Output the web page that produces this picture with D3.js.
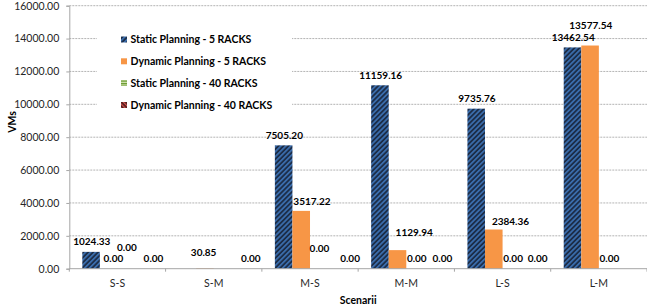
<!DOCTYPE html>
<html><head><meta charset="utf-8">
<script src="https://cdn.jsdelivr.net/npm/d3@7"></script>
<style>body{margin:0;background:#fff}svg{display:block}text{font-family:Lato,"Open Sans",sans-serif}</style>
</head><body><svg id="c" width="647" height="308"></svg>
<script>
// ---- data ----
const categories = ["S-S", "S-M", "M-S", "M-M", "L-S", "L-M"];
const seriesNames = ["Static Planning - 5 RACKS", "Dynamic Planning - 5 RACKS", "Static Planning - 40 RACKS", "Dynamic Planning - 40 RACKS"];
const static5 = [1024.33, null, 7505.20, 11159.16, 9735.76, 13462.54];
const dynamic5 = [0, 30.85, 3517.22, 1129.94, 2384.36, 13577.54];
const static40 = [0, null, 0, 0, 0, 0];
const dynamic40 = [0, 0, 0, 0, 0, null];
const yTicks = [0, 2000, 4000, 6000, 8000, 10000, 12000, 14000, 16000];
const xTitle = "Scenarii";
const yTitle = "VMs";

// ---- layout / style (not data) ----
const seriesData = [static5, dynamic5, static40, dynamic40];
const fills = ["url(#pStatic5)", "#f79646", "url(#pStatic40)", "url(#pDyn40)"];
// manual label nudges [dx, dy] keyed "category-series"
const labelNudge = {
  "0-1": [4, 0], "0-2": [0, -11], "0-3": [9, 0],
  "1-1": [-2, -6], "1-3": [10, 0],
  "2-1": [10, 1], "2-2": [0, -10], "2-3": [13, 0],
  "3-1": [16, -8], "3-2": [1, 0], "3-3": [9, 0],
  "4-1": [16, 2], "4-2": [1, 0], "4-3": [8, 0],
  "5-1": [0, -10], "5-2": [1, 0]
};

const L = 69.3, R = 647, T = 5.7, B = 268.7;
const svg = d3.select("#c");
const defs = svg.append("defs");

function stripes(id, bg, fg, angle, size, w) {
  const p = defs.append("pattern").attr("id", id).attr("patternUnits", "userSpaceOnUse")
    .attr("width", size).attr("height", size).attr("patternTransform", `rotate(${angle})`);
  p.append("rect").attr("width", size).attr("height", size).attr("fill", bg);
  p.append("rect").attr("width", w).attr("height", size).attr("fill", fg);
}
stripes("pStatic5", "#1b2b45", "#3a6cab", 45, 3.5, 1.8);
stripes("pStatic40", "#d4e4b4", "#6a9a30", 90, 2.5, 1.3);
stripes("pDyn40", "#3a1515", "#d0504d", -45, 3, 1.5);

const y = d3.scaleLinear().domain([0, 16000]).range([B, T]);
const x0 = d3.scaleBand().domain(categories).range([L, R]).paddingInner(0).paddingOuter(0);
const x1 = d3.scaleBand().domain(d3.range(seriesNames.length)).range([13, x0.bandwidth() - 13]);
const fmt = d3.format(".2f");

// gridlines
svg.append("g").selectAll("line").data(yTicks.filter(d => d > 0)).join("line")
  .attr("x1", L).attr("x2", R).attr("y1", d => y(d)).attr("y2", d => y(d))
  .attr("stroke", "#b4b4b4").attr("stroke-width", 1).attr("stroke-dasharray", "2,1");

// y axis
const yAxis = svg.append("g").attr("transform", `translate(${L},0)`)
  .call(d3.axisLeft(y).tickValues(yTicks).tickSize(3).tickPadding(7).tickFormat(fmt));
yAxis.select(".domain").attr("stroke", "#a6a6a6");
yAxis.selectAll(".tick line").attr("stroke", "#a6a6a6");
yAxis.selectAll(".tick text").attr("font-size", 10.5).attr("fill", "#262626")
  .attr("font-family", "Lato,sans-serif");

// bars
const bars = [];
categories.forEach((c, ci) => seriesData.forEach((arr, si) => {
  if (arr[ci] !== null) bars.push({ c, ci, si, v: arr[ci] });
}));
svg.append("g").selectAll("rect").data(bars).join("rect")
  .attr("x", d => x0(d.c) + x1(d.si)).attr("width", x1.bandwidth())
  .attr("y", d => y(d.v)).attr("height", d => y(0) - y(d.v))
  .attr("fill", d => fills[d.si]);

// x axis line + boundary ticks
svg.append("line").attr("x1", L).attr("x2", R).attr("y1", B).attr("y2", B).attr("stroke", "#a6a6a6");
svg.append("g").selectAll("line").data(categories.map(c => x0(c)).concat([R])).join("line")
  .attr("x1", d => d).attr("x2", d => d).attr("y1", B).attr("y2", B + 3).attr("stroke", "#a6a6a6");
svg.append("g").selectAll("text").data(categories).join("text")
  .attr("x", d => x0(d) + x0.bandwidth() / 2).attr("y", 283).attr("dy", "0.35em")
  .attr("text-anchor", "middle").attr("font-size", 10.5).attr("fill", "#262626").text(d => d);

// value labels
svg.append("g").selectAll("text").data(bars).join("text")
  .attr("x", d => x0(d.c) + x1(d.si) + x1.bandwidth() / 2 + 0.7 + ((labelNudge[d.ci + "-" + d.si] || [0, 0])[0]))
  .attr("y", d => y(d.v) - 10 + ((labelNudge[d.ci + "-" + d.si] || [0, 0])[1]))
  .attr("dy", "0.35em").attr("text-anchor", "middle")
  .attr("font-size", 10).attr("font-weight", "bold").attr("fill", "#000")
  .text(d => fmt(d.v));

// axis titles
svg.append("text").attr("x", (L + R) / 2).attr("y", 300).attr("dy", "0.35em").attr("text-anchor", "middle")
  .attr("font-size", 10.5).attr("font-weight", "bold").attr("fill", "#000").text(xTitle);
svg.append("text").attr("transform", "translate(12,122) rotate(-90)").attr("dy", "0.35em")
  .attr("text-anchor", "middle").attr("font-size", 10.5).attr("font-weight", "bold").attr("fill", "#000").text(yTitle);

// legend
const lg = svg.append("g");
lg.append("rect").attr("x", 97).attr("y", 26).attr("width", 195).attr("height", 92).attr("fill", "#fff");
const rowY = [39.5, 61.3, 83, 105];
const items = lg.selectAll("g").data(seriesNames).join("g")
  .attr("transform", (d, i) => `translate(121,${rowY[i]})`);
items.append("rect").attr("x", 0).attr("y", -3).attr("width", 6).attr("height", 6).attr("fill", (d, i) => fills[i]);
items.append("text").attr("x", 9.5).attr("dy", "0.35em").attr("font-size", 10.5).attr("font-weight", "bold")
  .attr("fill", "#000").text(d => d);
</script></body></html>
